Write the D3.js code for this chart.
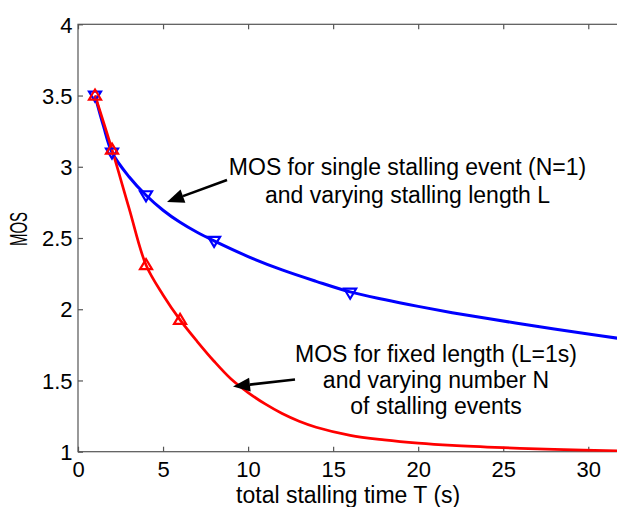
<!DOCTYPE html>
<html><head><meta charset="utf-8">
<script src="https://cdn.jsdelivr.net/npm/d3@7"></script>
<style>html,body{margin:0;padding:0;background:#fff;overflow:hidden}</style>
</head><body><svg id="c" width="617" height="507"></svg>
<script>
// ---- data ----
const xTicks = [0, 5, 10, 15, 20, 25, 30];
const xTickLabels = ["0", "5", "10", "15", "20", "25", "30"];
const yTicks = [1, 1.5, 2, 2.5, 3, 3.5, 4];
const yTickLabels = ["1", "1.5", "2", "2.5", "3", "3.5", "4"];

// blue curve: single stalling event, varying length L
const blueT   = [1, 1.5, 2, 3, 4, 5, 6, 7, 8, 10, 12, 14, 16, 18, 20, 22, 24, 26, 28, 30, 32];
const blueMOS = [3.5, 3.285, 3.1, 2.93, 2.8, 2.695, 2.61, 2.54, 2.48, 2.37, 2.276, 2.196, 2.122, 2.068, 2.02, 1.976, 1.936, 1.898, 1.861, 1.826, 1.792];
const blueMarkT   = [1, 2, 4, 8, 16];
const blueMarkMOS = [3.5, 3.1, 2.8, 2.48, 2.116];

// red curve: fixed length L=1s, varying number N
const redT   = [1, 2, 3, 4, 5, 6, 7, 8, 9, 10, 11, 12, 13, 14, 16, 18, 20, 22, 25, 28, 32];
const redMOS = [3.5, 3.12, 2.71, 2.31, 2.1, 1.925, 1.775, 1.635, 1.51, 1.415, 1.335, 1.268, 1.214, 1.172, 1.115, 1.083, 1.06, 1.044, 1.028, 1.016, 1.006];
const redMarkT   = [1, 2, 4, 6];
const redMarkMOS = [3.5, 3.12, 2.31, 1.925];

const noteSingle = ["MOS for single stalling event (N=1)", "and varying stalling length L"];
const noteFixed  = ["MOS for fixed length (L=1s)", "and varying number N", "of stalling events"];
const xLabel = "total stalling time T (s)";
const yLabel = "MOS";

// ---- layout ----
const svg = d3.select("#c");
const FONT = "'Liberation Sans', Arial, Helvetica, sans-serif";
const L = 78, R = 622.3, T = 24.3, B = 451.7;
const x = d3.scaleLinear().domain([0, 32]).range([L, R]);
const y = d3.scaleLinear().domain([1, 4]).range([B, T]);
const AX = "#555";

// frame
svg.append("rect").attr("x", L).attr("y", T).attr("width", R - L).attr("height", B - T)
  .attr("fill", "none").attr("stroke", AX).attr("stroke-width", 1.2);

// axes (ticks inward)
const gx = svg.append("g").attr("transform", `translate(0,${B})`)
  .call(d3.axisBottom(x).tickValues(xTicks).tickFormat((d, i) => xTickLabels[i]).tickSize(-5).tickSizeOuter(0));
const gxt = svg.append("g").attr("transform", `translate(0,${T})`)
  .call(d3.axisTop(x).tickValues(xTicks).tickFormat("").tickSize(-5).tickSizeOuter(0));
const gy = svg.append("g").attr("transform", `translate(${L},0)`)
  .call(d3.axisLeft(y).tickValues(yTicks).tickFormat((d, i) => yTickLabels[i]).tickSize(-5).tickSizeOuter(0));
const gyr = svg.append("g").attr("transform", `translate(${R},0)`)
  .call(d3.axisRight(y).tickValues(yTicks).tickFormat("").tickSize(-5).tickSizeOuter(0));
[gx, gxt, gy, gyr].forEach(g => {
  g.select(".domain").remove();
  g.selectAll(".tick line").attr("stroke", AX).attr("stroke-width", 1.2);
});
gx.selectAll(".tick text").attr("font-family", FONT).attr("font-size", 22).attr("fill", "#000")
  .attr("y", 25).attr("dy", 0);
gy.selectAll(".tick text").attr("font-family", FONT).attr("font-size", 22).attr("fill", "#000")
  .attr("x", -5.5).attr("dy", "0.35em");

// axis labels
svg.append("text").attr("x", (L + R) / 2 - 2).attr("y", 503).attr("text-anchor", "middle")
  .attr("font-family", FONT).attr("font-size", 23).text(xLabel);
svg.append("text").attr("transform", "translate(27,229) rotate(-90) scale(0.65,1)").attr("text-anchor", "middle")
  .attr("font-family", FONT).attr("font-size", 23).text(yLabel);

// curves
const line = d3.line().x(d => x(d[0])).y(d => y(d[1])).curve(d3.curveCatmullRom.alpha(0.5));
const blue = blueT.map((t, i) => [t, blueMOS[i]]);
const red = redT.map((t, i) => [t, redMOS[i]]);
svg.append("path").attr("d", line(blue)).attr("fill", "none").attr("stroke", "#0000ff").attr("stroke-width", 3);
svg.append("path").attr("d", line(red)).attr("fill", "none").attr("stroke", "#ff0000").attr("stroke-width", 2.7);

// markers
function tri(up) {
  const w = 12, h = 10;
  return up ? `M0,${-h * 0.6}L${w / 2},${h * 0.4}L${-w / 2},${h * 0.4}Z`
            : `M0,${h * 0.6}L${w / 2},${-h * 0.4}L${-w / 2},${-h * 0.4}Z`;
}
svg.append("g").selectAll("path").data(blueMarkT.map((t, i) => [t, blueMarkMOS[i]])).join("path")
  .attr("transform", d => `translate(${x(d[0])},${y(d[1])})`).attr("d", tri(false))
  .attr("fill", "none").attr("stroke", "#0000ff").attr("stroke-width", 2.2);
svg.append("g").selectAll("path").data(redMarkT.map((t, i) => [t, redMarkMOS[i]])).join("path")
  .attr("transform", d => `translate(${x(d[0])},${y(d[1])})`).attr("d", tri(true))
  .attr("fill", "none").attr("stroke", "#ff0000").attr("stroke-width", 2.2);

// annotations
function note(lines, cx, y0, dy) {
  const t = svg.append("text").attr("text-anchor", "middle").attr("font-family", FONT).attr("font-size", 23).attr("fill", "#000");
  lines.forEach((s, i) => t.append("tspan").attr("x", cx).attr("y", y0 + i * dy).text(s));
}
note(noteSingle, 407.5, 175, 27.5);
note(noteFixed, 436, 361.5, 26);

function arrow(x1, y1, x2, y2) {
  const ang = Math.atan2(y2 - y1, x2 - x1);
  const hl = 17, hw = 7;
  const bx = x2 - hl * Math.cos(ang), by = y2 - hl * Math.sin(ang);
  svg.append("line").attr("x1", x1).attr("y1", y1).attr("x2", bx).attr("y2", by)
    .attr("stroke", "#000").attr("stroke-width", 2.6);
  const px = -Math.sin(ang) * hw, py = Math.cos(ang) * hw;
  svg.append("path").attr("d", `M${x2},${y2}L${bx + px},${by + py}L${bx - px},${by - py}Z`).attr("fill", "#000");
}
arrow(227, 180, 167, 202);
arrow(295, 379.5, 233, 386.5);
</script></body></html>
